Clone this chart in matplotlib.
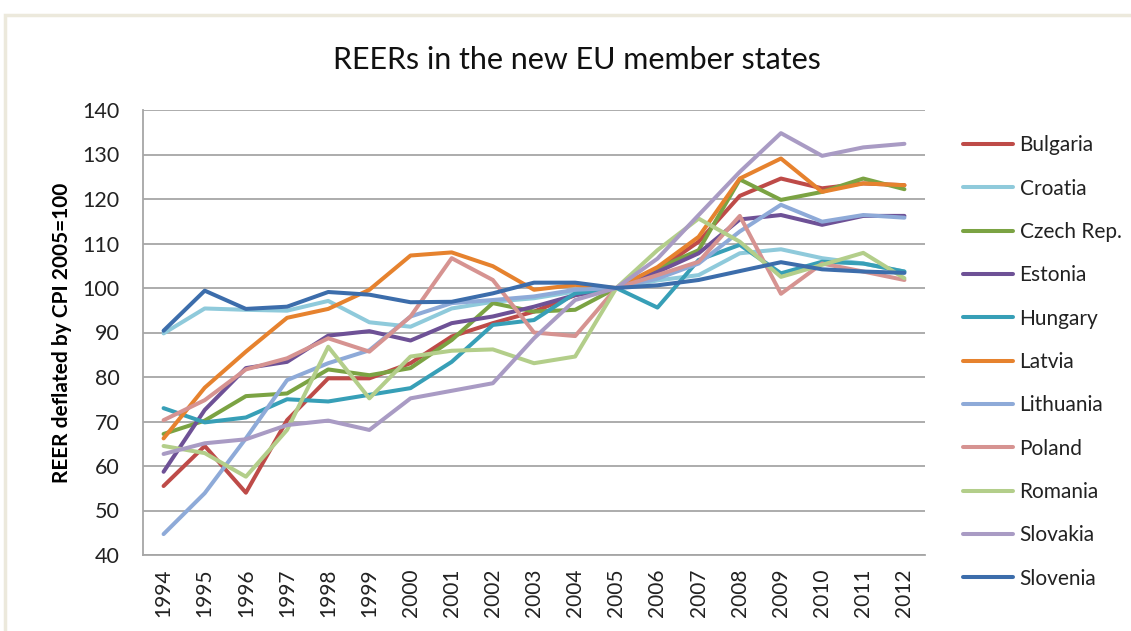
import matplotlib
matplotlib.use("Agg")
import matplotlib.pyplot as plt
from matplotlib.patches import Rectangle

years = [str(y) for y in range(1994, 2013)]

bulgaria  = [55.5, 64.5, 54.0, 70.3, 79.7, 79.7, 83.1, 89.1, 92.1, 94.7, 98.4, 100, 104.0, 110.4, 120.7, 124.6, 122.4, 123.5, 123.1]
croatia   = [89.8, 95.4, 95.1, 94.9, 97.1, 92.3, 91.3, 95.4, 96.9, 97.7, 99.2, 100, 101.7, 102.9, 107.8, 108.7, 106.7, 105.5, 103.7]
czech     = [67.2, 70.2, 75.7, 76.3, 81.7, 80.4, 82.0, 88.3, 96.6, 94.7, 95.1, 100, 104.4, 108.5, 124.4, 119.8, 121.6, 124.6, 122.2]
estonia   = [58.7, 72.6, 82.0, 83.4, 89.3, 90.3, 88.2, 92.1, 93.6, 95.8, 98.4, 100, 103.6, 107.8, 115.4, 116.4, 114.2, 116.2, 116.2]
hungary   = [73.0, 69.8, 70.9, 75.0, 74.5, 76.0, 77.5, 83.4, 91.7, 92.8, 98.8, 100, 95.6, 106.3, 109.7, 103.3, 105.9, 105.5, 103.7]
latvia    = [66.2, 77.6, 85.7, 93.3, 95.3, 99.6, 107.3, 108.0, 104.9, 99.6, 100.7, 100, 104.7, 111.5, 124.6, 129.1, 121.6, 123.5, 123.1]
lithuania = [44.7, 53.9, 66.2, 79.3, 83.1, 86.0, 93.6, 96.6, 97.3, 98.1, 99.6, 100, 102.1, 105.5, 112.7, 118.7, 114.9, 116.4, 115.8]
poland    = [70.3, 74.8, 81.7, 84.2, 88.7, 85.7, 93.6, 106.7, 101.8, 90.0, 89.2, 100, 102.9, 105.9, 116.2, 98.7, 105.5, 103.7, 101.8]
romania   = [64.5, 62.9, 57.6, 68.1, 86.8, 75.2, 84.6, 85.9, 86.2, 83.1, 84.6, 100, 108.5, 115.6, 110.4, 102.5, 105.2, 107.9, 102.2]
slovakia  = [62.7, 65.1, 66.0, 69.2, 70.2, 68.1, 75.2, 76.9, 78.6, 88.7, 97.3, 100, 106.6, 116.4, 126.1, 134.8, 129.7, 131.6, 132.4]
slovenia  = [90.4, 99.4, 95.3, 95.8, 99.1, 98.5, 96.8, 96.9, 98.8, 101.2, 101.2, 100, 100.6, 101.8, 103.8, 105.8, 104.2, 103.7, 103.4]

series = [
    ("Bulgaria", bulgaria, "#BE4B48"),
    ("Croatia", croatia, "#8FCADB"),
    ("Czech Rep.", czech, "#7BA343"),
    ("Estonia", estonia, "#6E5196"),
    ("Hungary", hungary, "#379FB7"),
    ("Latvia", latvia, "#E6822E"),
    ("Lithuania", lithuania, "#8EAAD8"),
    ("Poland", poland, "#D69391"),
    ("Romania", romania, "#B3CE8A"),
    ("Slovakia", slovakia, "#A99BC4"),
    ("Slovenia", slovenia, "#3C6DAB"),
]

FONT = ["Lato", "DejaVu Sans"]
plt.rcParams["font.family"] = FONT

fig = plt.figure(figsize=(11.31, 6.31), dpi=100)
fig.patches.append(Rectangle((5 / 1131, -0.05), 1.2, (631 - 15) / 631 + 0.05,
                             transform=fig.transFigure, fill=False,
                             edgecolor="#ECE9DC", linewidth=2.5))

ax = fig.add_axes([143 / 1131, 1 - 555 / 631, (925 - 143) / 1131, (555 - 110) / 631])

x = list(range(len(years)))
for name, vals, col in series:
    ax.plot(x, vals, color=col, linewidth=2.9, label=name, solid_capstyle="round")

ax.set_xlim(-0.5, len(years) - 0.5)
ax.set_ylim(40, 140)
ax.set_yticks(range(40, 141, 10))
ax.set_xticks(x)
ax.set_xticklabels(years, rotation=90, fontsize=15, color="#222222")
ax.tick_params(axis="y", labelsize=15.5, colors="#222222", length=0, pad=17)
ax.tick_params(axis="x", length=0, pad=10)
ax.grid(axis="y", color="#A6A6A6", linewidth=1.3)
ax.set_axisbelow(True)
for s in ["top", "right"]:
    ax.spines[s].set_visible(False)
for s in ["left", "bottom"]:
    ax.spines[s].set_color("#A6A6A6")
    ax.spines[s].set_linewidth(1.3)

ax.set_ylabel("REER deflated by CPI 2005=100", fontsize=15, fontweight="bold", labelpad=7)
fig.text(577 / 1131, 1 - 60 / 631, "REERs in the new EU member states",
         ha="center", va="center", fontsize=22, color="#111111")

leg = fig.legend(loc="upper left", bbox_to_anchor=(955 / 1131, 1 - 127 / 631),
                 frameon=False, fontsize=15, handlelength=2.4, handletextpad=0.3,
                 labelspacing=1.12, borderaxespad=0)
for t in leg.get_texts():
    t.set_color("#222222")

fig.savefig("out.png", dpi=100)
